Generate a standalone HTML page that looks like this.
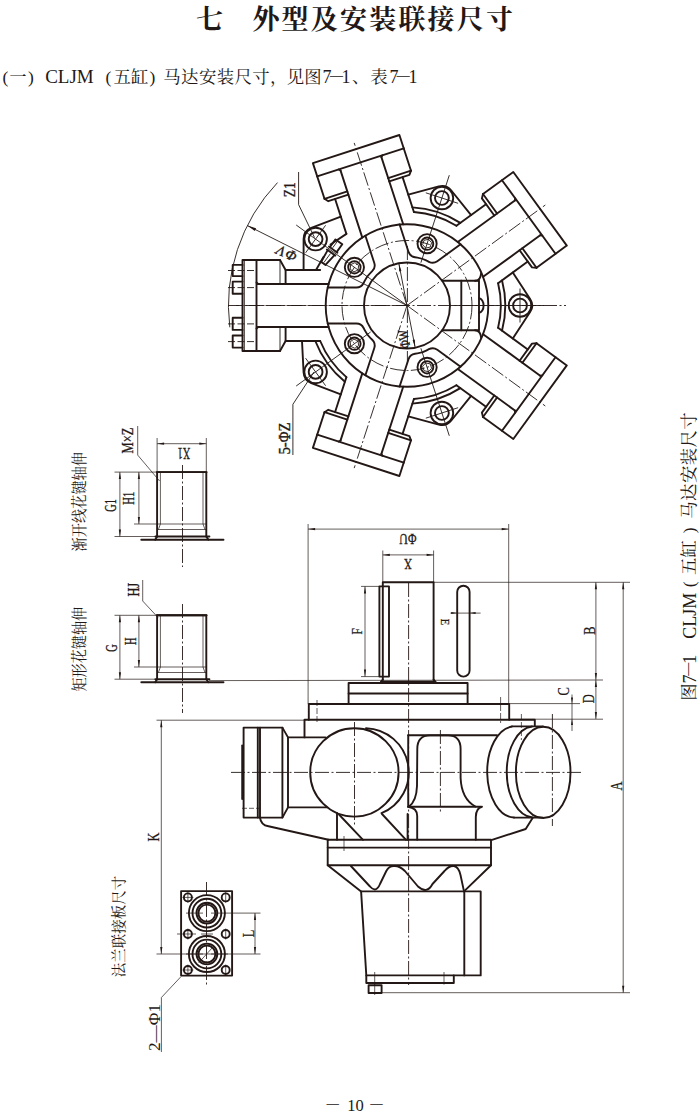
<!DOCTYPE html>
<html lang="zh-CN"><head><meta charset="utf-8"><title>外型及安装联接尺寸</title>
<style>
html,body{margin:0;padding:0;background:#fff;}
body{width:700px;height:1116px;overflow:hidden;position:relative;}
svg{position:absolute;left:0;top:0;display:block;}
.s{font-family:"Liberation Serif","Noto Serif CJK SC",serif;fill:#231815;}
.n{font-family:"Liberation Serif","Noto Serif CJK SC",serif;fill:#231815;stroke:#231815;stroke-width:0.35;}
.k{fill:none;stroke:#231815;stroke-width:1.9;stroke-linecap:round;stroke-linejoin:round;}
.t{fill:none;stroke:#231815;stroke-width:0.9;stroke-linecap:butt;}
.c{fill:none;stroke:#231815;stroke-width:0.9;stroke-dasharray:14 2.5 2 2.5;}
#side .t,#left .t{stroke-width:.7;}
.a{fill:#231815;stroke:none;}
</style></head><body>
<svg width="700" height="1116" viewBox="0 0 700 1116">
<text class="s" x="195.9" y="29.2" font-size="27" font-weight="700">七</text>
<text class="s" x="252.4 281.6 310.8 340 369.2 398.4 427.6 456.8 486" y="29.2" font-size="27" font-weight="700">外型及安装联接尺寸</text>
<text class="s" x="2.6" y="82.6" font-size="17.4">(</text>
<text class="s" x="9.3" y="82.6" font-size="17.4">一</text>
<text class="s" x="28" y="82.6" font-size="17.4">)</text>
<text class="s" x="45.2" y="83.2" font-size="19">CLJM</text>
<text class="s" x="105.5" y="82.6" font-size="17.4">(</text>
<text class="s" x="113.6 130.9" y="82.6" font-size="17.4">五缸</text>
<text class="s" x="149.5" y="82.6" font-size="17.4">)</text>
<text class="s" x="163.3 181.1 198.9 216.7 234.5 252.3" y="82.6" font-size="17.4">马达安装尺寸</text>
<text class="s" x="270" y="82.6" font-size="17.4">，</text>
<text class="s" x="286.8 304.2" y="82.6" font-size="17.4">见图</text>
<text class="s" x="322.4" y="83.2" font-size="18">7</text>
<text class="s" x="327.8" y="82.6" font-size="17.4">－</text>
<text class="s" x="341.6" y="83.2" font-size="18">1</text>
<text class="s" x="352" y="82.6" font-size="17.4">、</text>
<text class="s" x="370.2" y="82.6" font-size="17.4">表</text>
<text class="s" x="389.4" y="83.2" font-size="18">7</text>
<text class="s" x="394.5" y="82.6" font-size="17.4">－</text>
<text class="s" x="408.6" y="83.2" font-size="18">1</text>
<text class="s" x="324.6" y="1110.8" font-size="16.5">－</text>
<text class="s" x="347.2" y="1110.8" font-size="16.5">10</text>
<text class="s" x="368.3" y="1110.8" font-size="16.5">－</text>
<g transform="translate(695 699.7) rotate(-90)">
<text class="s" x="-1" y="0" font-size="17.4">图</text>
<text class="s" x="16.2" y="0.6" font-size="18">7</text>
<text class="s" x="21.6" y="0" font-size="17.4">－</text>
<text class="s" x="35.9" y="0.6" font-size="18">1</text>
<text class="s" x="61" y="0.6" font-size="18">CLJM</text>
<text class="s" x="112.5" y="0" font-size="17.4">(</text>
<text class="s" x="124.8 142.2" y="0" font-size="17.4">五缸</text>
<text class="s" x="166.5" y="0" font-size="17.4">)</text>
<text class="s" x="181 198.8 216.6 234.4 252.2 270" y="0" font-size="17.4">马达安装尺寸</text>
</g>
<g id="star">
<circle class="k" cx="407" cy="305.5" r="43"/>
<circle class="k" cx="407" cy="305.5" r="81.3"/>
<circle class="c" cx="407" cy="305.5" r="65"/>
<line class="k" x1="362.3" y1="237.6" x2="340.5" y2="170.4"/>
<line class="k" x1="340.5" y1="170.4" x2="338.6" y2="169.5"/>
<line class="k" x1="346.4" y1="233.9" x2="335.1" y2="199"/>
<path class="k" d="M347.3 191.4 L324.5 198.8"/>
<path class="k" d="M348.4 194.7 L328.3 201.2 L324.5 198.8"/>
<line class="k" x1="403.2" y1="224.3" x2="381.4" y2="157.1"/>
<line class="k" x1="381.4" y1="157.1" x2="382.4" y2="155.3"/>
<line class="k" x1="413.9" y1="212" x2="402.6" y2="177.1"/>
<path class="k" d="M388.2 178.1 L411 170.7"/>
<path class="k" d="M389.3 181.4 L409.4 174.9 L411 170.7"/>
<path class="k" d="M324.5 198.8 L312.9 163.1 L399.4 135 L411 170.7"/>
<line class="k" x1="317.2" y1="176.4" x2="403.8" y2="148.3"/>
<line class="c" x1="407" y1="305.5" x2="354.2" y2="142.9"/>
<line class="k" x1="457.8" y1="242" x2="514.9" y2="200.5"/>
<line class="k" x1="514.9" y1="200.5" x2="515.2" y2="198.4"/>
<line class="k" x1="456.4" y1="225.7" x2="486" y2="204.2"/>
<path class="k" d="M497.1 213.5 L483 194"/>
<path class="k" d="M494.3 215.5 L481.9 198.4 L483 194"/>
<line class="k" x1="483.1" y1="276.8" x2="540.2" y2="235.3"/>
<line class="k" x1="540.2" y1="235.3" x2="542.3" y2="235.6"/>
<line class="k" x1="498.1" y1="283.2" x2="527.8" y2="261.6"/>
<path class="k" d="M522.4 248.2 L536.5 267.7"/>
<path class="k" d="M519.6 250.3 L532 267.4 L536.5 267.7"/>
<path class="k" d="M483 194 L513.3 172 L566.8 245.6 L536.5 267.7"/>
<line class="k" x1="502" y1="180.2" x2="555.5" y2="253.8"/>
<line class="c" x1="407" y1="305.5" x2="545.3" y2="205"/>
<line class="k" x1="483.1" y1="334.2" x2="540.2" y2="375.7"/>
<line class="k" x1="540.2" y1="375.7" x2="542.3" y2="375.4"/>
<line class="k" x1="498.1" y1="327.8" x2="527.8" y2="349.4"/>
<path class="k" d="M522.4 362.8 L536.5 343.3"/>
<path class="k" d="M519.6 360.7 L532 343.6 L536.5 343.3"/>
<line class="k" x1="457.8" y1="369" x2="514.9" y2="410.5"/>
<line class="k" x1="514.9" y1="410.5" x2="515.2" y2="412.6"/>
<line class="k" x1="456.4" y1="385.3" x2="486" y2="406.8"/>
<path class="k" d="M497.1 397.5 L483 417"/>
<path class="k" d="M494.3 395.5 L481.9 412.6 L483 417"/>
<path class="k" d="M536.5 343.3 L566.8 365.4 L513.3 439 L483 417"/>
<line class="k" x1="555.5" y1="357.2" x2="502" y2="430.8"/>
<line class="c" x1="407" y1="305.5" x2="545.3" y2="406"/>
<line class="k" x1="403.2" y1="386.7" x2="381.4" y2="453.9"/>
<line class="k" x1="381.4" y1="453.9" x2="382.4" y2="455.7"/>
<line class="k" x1="413.9" y1="399" x2="402.6" y2="433.9"/>
<path class="k" d="M388.2 432.9 L411 440.3"/>
<path class="k" d="M389.3 429.6 L409.4 436.1 L411 440.3"/>
<line class="k" x1="362.3" y1="373.4" x2="340.5" y2="440.6"/>
<line class="k" x1="340.5" y1="440.6" x2="338.6" y2="441.5"/>
<line class="k" x1="346.4" y1="377.1" x2="335.1" y2="412"/>
<path class="k" d="M347.3 419.6 L324.5 412.2"/>
<path class="k" d="M348.4 416.3 L328.3 409.8 L324.5 412.2"/>
<path class="k" d="M411 440.3 L399.4 476 L312.9 447.9 L324.5 412.2"/>
<line class="k" x1="403.8" y1="462.7" x2="317.2" y2="434.6"/>
<line class="c" x1="407" y1="305.5" x2="354.2" y2="468.1"/>
<line class="k" x1="328.6" y1="327" x2="258" y2="327"/>
<line class="k" x1="258" y1="327" x2="256.5" y2="328.5"/>
<line class="k" x1="320.2" y1="341" x2="285.6" y2="341"/>
<path class="k" d="M285.6 327 L285.6 341 L280 351"/>
<line class="t" x1="280" y1="327" x2="280" y2="351"/>
<line class="k" x1="328.6" y1="284" x2="258" y2="284"/>
<line class="k" x1="258" y1="284" x2="256.5" y2="282.5"/>
<line class="k" x1="320.2" y1="270" x2="285.6" y2="270"/>
<path class="k" d="M285.6 284 L285.6 270 L280 260"/>
<line class="t" x1="280" y1="284" x2="280" y2="260"/>
<path class="k" d="M280 351 L242.5 351 L242.5 260 L280 260"/>
<line class="k" x1="256.5" y1="351" x2="256.5" y2="260"/>
<line class="c" x1="407" y1="305.5" x2="236" y2="305.5"/>
<path class="k" d="M456.4 225.7 A93.8 93.8 0 0 0 413.9 212"/>
<path class="k" d="M460.3 222.9 A98.3 98.3 0 0 0 412.4 207.4"/>
<path class="k" d="M408.3 194.7 L438.8 186.4 A12.0 12.0 0 0 1 451.3 190.5 L471.1 215.1"/>
<circle class="k" cx="441.9" cy="198" r="11.3"/>
<circle class="k" cx="441.9" cy="198" r="6.9"/>
<line class="t" x1="420.9" y1="262.7" x2="449.3" y2="175.2"/>
<line class="t" x1="425.8" y1="192.8" x2="458.1" y2="203.3"/>
<path class="k" d="M498.1 327.8 A93.8 93.8 0 0 0 498.1 283.2"/>
<path class="k" d="M502 330.7 A98.3 98.3 0 0 0 502 280.3"/>
<path class="k" d="M512.8 272.5 L530.1 298.9 A12.0 12.0 0 0 1 530.1 312.1 L512.8 338.5"/>
<circle class="k" cx="520" cy="305.5" r="11.3"/>
<circle class="k" cx="520" cy="305.5" r="6.9"/>
<line class="t" x1="452" y1="305.5" x2="544" y2="305.5"/>
<line class="t" x1="520" y1="288.5" x2="520" y2="322.5"/>
<path class="k" d="M413.9 399 A93.8 93.8 0 0 0 456.4 385.3"/>
<path class="k" d="M412.4 403.6 A98.3 98.3 0 0 0 460.3 388.1"/>
<path class="k" d="M471.1 395.9 L451.3 420.5 A12.0 12.0 0 0 1 438.8 424.6 L408.3 416.3"/>
<circle class="k" cx="441.9" cy="413" r="11.3"/>
<circle class="k" cx="441.9" cy="413" r="6.9"/>
<line class="t" x1="420.9" y1="348.3" x2="449.3" y2="435.8"/>
<line class="t" x1="458.1" y1="407.7" x2="425.8" y2="418.2"/>
<path class="k" d="M340.8 216.6 L311.3 227.9 A12 12 0 0 0 303.6 239.1 L303.6 270 L316 270 L323.5 257"/>
<circle class="k" cx="315.6" cy="239.1" r="11.3"/>
<circle class="k" cx="315.6" cy="239.1" r="6.9"/>
<line class="t" x1="407" y1="305.5" x2="296.2" y2="225"/>
<line class="t" x1="305.6" y1="252.8" x2="325.6" y2="225.3"/>
<line class="k" x1="346.4" y1="233.9" x2="330.5" y2="244.5"/>
<path class="k" stroke-width="1.3" d="M329.8 247.2 L335.5 239.4 L342.3 244.3 L336.6 252.1"/>
<path class="k" stroke-width="1.3" d="M327.7 250.1 L321.2 261.7 L325.5 264.9 L334.5 255.1"/>
<line class="k" x1="329" y1="246.6" x2="337.4" y2="252.7"/>
<line class="k" x1="326.9" y1="249.5" x2="335.3" y2="255.6"/>
<line class="t" x1="332.7" y1="247.8" x2="337.4" y2="241.3"/>
<line class="t" x1="330.4" y1="253.6" x2="323.9" y2="262.5"/>
<path class="k" d="M320.2 341 A93.8 93.8 0 0 0 346.4 377.1"/>
<path class="k" d="M315.3 341 A98.3 98.3 0 0 0 344.9 381.7"/>
<path class="k" d="M340.8 394.4 L311.3 383.1 A12.0 12.0 0 0 1 303.6 372.5 L302 341"/>
<circle class="k" cx="315.6" cy="371.9" r="11.3"/>
<circle class="k" cx="315.6" cy="371.9" r="6.9"/>
<line class="t" x1="370.6" y1="332" x2="296.2" y2="386"/>
<line class="t" x1="325.6" y1="385.7" x2="305.6" y2="358.2"/>
<path class="k" d="M399.6 224.5 L408.5 251.8 Q410 256.6 415 257.3 L417.4 257.6 Q422.3 258.3 426.7 260.7 L428.9 261.8 Q433.3 264.1 437.3 261.2 L460.6 244.3"/>
<circle class="k" cx="427.1" cy="243.7" r="9.6"/>
<circle class="k" cx="427.1" cy="243.7" r="6.2" stroke-width="1.2"/>
<path class="t" d="M428.5 239.3 L424 240.3 L422.6 244.6 L425.7 248.1 L430.2 247.1 L431.6 242.7 Z"/>
<path class="k" d="M460.6 366.7 L437.3 349.8 Q433.3 346.9 428.9 349.2 L426.7 350.3 Q422.3 352.7 417.4 353.4 L415 353.7 Q410 354.4 408.5 359.2 L399.6 386.5"/>
<circle class="k" cx="427.1" cy="367.3" r="9.6"/>
<circle class="k" cx="427.1" cy="367.3" r="6.2" stroke-width="1.2"/>
<path class="t" d="M428.5 371.7 L431.6 368.3 L430.2 363.9 L425.7 362.9 L422.6 366.4 L424 370.7 Z"/>
<path class="k" d="M327.7 287.5 L356.4 287.5 Q361.4 287.5 363.6 283 L364.7 280.8 Q366.9 276.3 370.5 272.9 L372.2 271.2 Q375.8 267.7 374.3 263 L365.4 235.7"/>
<circle class="k" cx="354.4" cy="267.3" r="9.6"/>
<circle class="k" cx="354.4" cy="267.3" r="6.2" stroke-width="1.2"/>
<path class="t" d="M350.7 264.6 L350.2 269.2 L353.9 271.9 L358.1 270 L358.6 265.4 L354.9 262.7 Z"/>
<path class="k" d="M365.4 375.3 L374.3 348 Q375.8 343.3 372.2 339.8 L370.5 338.1 Q366.9 334.7 364.7 330.2 L363.6 328 Q361.4 323.5 356.4 323.5 L327.7 323.5"/>
<circle class="k" cx="354.4" cy="343.7" r="9.6"/>
<circle class="k" cx="354.4" cy="343.7" r="6.2" stroke-width="1.2"/>
<path class="t" d="M350.7 346.4 L354.9 348.3 L358.6 345.6 L358.1 341 L353.9 339.1 L350.2 341.8 Z"/>
<path class="k" d="M442.2 280.8 L479 280.8 L479 330.2 L442.2 330.2"/>
<line class="k" x1="461.3" y1="280.8" x2="461.3" y2="330.2"/>
<path class="k" d="M479 298.3 A4.6 7.2 0 0 1 479 312.7" stroke-width="1.4"/>
<path class="k" d="M475 280.8 Q480.5 280.8 481.1 273.3"/>
<path class="k" d="M475 330.2 Q480.5 330.2 481.1 337.7"/>
<path class="k" stroke-width="1.4" d="M242.5 264.9 L232.7 264.9 L232.7 276.1 L242.5 276.1"/>
<line class="t" x1="228" y1="270.5" x2="254" y2="270.5" stroke-dasharray="7 2.5"/>
<path class="k" stroke-width="1.4" d="M242.5 281.6 L232.7 281.6 L232.7 293.7 L242.5 293.7"/>
<line class="t" x1="228" y1="287.6" x2="254" y2="287.6" stroke-dasharray="7 2.5"/>
<path class="k" stroke-width="1.4" d="M242.5 317.8 L232.7 317.8 L232.7 329.9 L242.5 329.9"/>
<line class="t" x1="228" y1="323.9" x2="254" y2="323.9" stroke-dasharray="7 2.5"/>
<path class="k" stroke-width="1.4" d="M242.5 335.5 L232.7 335.5 L232.7 347.6 L242.5 347.6"/>
<line class="t" x1="228" y1="341.6" x2="254" y2="341.6" stroke-dasharray="7 2.5"/>
<line class="t" x1="244.3" y1="260" x2="244.3" y2="351"/>
<path class="t" d="M277.5 182.6 A178.5 178.5 0 0 0 229.8 327.3"/>
<line class="t" x1="247.4" y1="225.6" x2="407" y2="305.5"/>
<path class="a" d="M247.4 225.6 L256.1 228.3 L254.8 230.9 Z"/>
<text class="n" x="286.6" y="253.6" font-size="14.5" text-anchor="middle" transform="rotate(204 286.6 253.6)" textLength="21" lengthAdjust="spacing" dominant-baseline="central" font-style="italic">ΦV</text>
<path class="t" d="M298.6 172 L298.6 204.6 L314.5 237.5"/>
<text class="n" x="295" y="189.7" font-size="16.2" text-anchor="middle" transform="rotate(-90 295 189.7)" textLength="15" lengthAdjust="spacingAndGlyphs">Z1</text>
<path class="t" d="M314 372 L292.9 404.3 L292.9 455"/>
<text class="n" x="290.2" y="438.6" font-size="16.2" text-anchor="middle" transform="rotate(-90 290.2 438.6)" textLength="32" lengthAdjust="spacingAndGlyphs">5-ΦZ</text>
<line class="t" x1="398.8" y1="263.3" x2="415.2" y2="347.7"/>
<path class="a" d="M398.8 263.3 L401.4 270.9 L399.2 271.4 Z"/>
<path class="a" d="M415.2 347.7 L412.6 340.1 L414.8 339.6 Z"/>
<text class="n" x="404.1" y="339" font-size="14" text-anchor="middle" transform="rotate(-100 404.1 339)" textLength="19" lengthAdjust="spacingAndGlyphs" dominant-baseline="central">ΦW</text>
<line class="c" x1="228" y1="305.5" x2="566" y2="305.5"/>
<line class="c" x1="407.4" y1="246" x2="407.4" y2="364"/>
</g>
<g id="side">
<path class="k" d="M382.8 680 L382.8 582.3 L433.6 582.3 L433.6 680"/>
<path class="k" d="M381 681.8 L382.8 679.5"/>
<path class="k" d="M435.4 681.8 L433.6 679.5"/>
<line class="k" x1="381" y1="681.8" x2="435.4" y2="681.8"/>
<path class="k" d="M379.4 586.4 L389 586.4 L389 676.6 L379.4 676.6 Z"/>
<rect class="k" x="457.2" y="585.7" width="12.4" height="90.9" rx="6.2" ry="6.2"/>
<path class="k" d="M348.6 704 L348.6 683 L467.6 683 L467.6 704"/>
<line class="k" x1="348.6" y1="693.5" x2="467.6" y2="693.5"/>
<path class="k" d="M308.8 719.8 L308.8 704 L509.2 704 L509.2 719.8"/>
<path class="k" d="M304.5 737.4 L304.5 719.8 L534.8 719.8 L534.8 726"/>
<path class="k" d="M282.4 727.6 L243.6 727.6 L243.6 817.6 L282.4 817.6 L288 807.4 L288 737.4 Z"/>
<line class="k" x1="257.8" y1="727.6" x2="257.8" y2="817.6" stroke-width="1.5"/>
<line class="k" x1="260" y1="727.6" x2="260" y2="817.6" stroke-width="1.3"/>
<line class="k" x1="282.4" y1="727.6" x2="282.4" y2="817.6" stroke-width="1.2"/>
<line class="k" x1="242.2" y1="745.5" x2="242.2" y2="799" stroke-width="1.6"/>
<line class="k" x1="288" y1="737.4" x2="325.5" y2="737.4"/>
<line class="k" x1="288" y1="807.4" x2="327" y2="807.4"/>
<line class="t" x1="242" y1="808.3" x2="260" y2="808.3" stroke-dasharray="5 2"/>
<path class="k" d="M260 817.6 Q260.8 825 268.5 826.3 L328.5 839.8"/>
<circle class="k" cx="354.4" cy="772.4" r="44.2"/>
<path class="k" d="M366 728.2 A44.2 44.2 0 0 1 381.5 813.2"/>
<line class="k" x1="337" y1="813" x2="337" y2="839.8"/>
<line class="k" x1="339" y1="814.5" x2="363" y2="839.8"/>
<line class="k" x1="382" y1="814" x2="406" y2="839.8"/>
<line class="k" x1="408.2" y1="735.2" x2="497" y2="735.2"/>
<line class="k" x1="408.2" y1="735.2" x2="408.2" y2="806.7" stroke-width="1.5"/>
<line class="k" x1="408.6" y1="806.7" x2="481" y2="806.7"/>
<path class="k" d="M409 806.5 Q416.5 801 417 786 L417.3 749 Q417.3 735.4 430 735.4 L448 735.4 Q460.6 735.4 460.6 749 L460.6 778 Q461.5 799 475.4 806.5"/>
<path class="k" d="M408 806.8 Q417.2 808 417.2 816 L417.2 839.8"/>
<path class="k" d="M482 806.7 Q476 808 475.8 817 L475.8 839.8"/>
<line class="k" x1="407.6" y1="814" x2="407.6" y2="839.8" stroke-width="1.3"/>
<ellipse class="k" cx="543.2" cy="772.4" rx="27.3" ry="45.6"/>
<path class="k" d="M532 726.5 A27.3 45.6 0 0 0 532.5 817.5"/>
<path class="k" d="M512 726.5 A27.3 45.6 0 0 0 514 817.5"/>
<line class="k" x1="512" y1="726.4" x2="543" y2="726.4"/>
<line class="k" x1="514" y1="817.6" x2="543" y2="817.6"/>
<path class="k" d="M532.6 818 L525.7 829 L492 839.8"/>
<path class="k" d="M327.7 865.2 L327.7 839.8 L491 839.8 L491 865.2 Z"/>
<line class="k" x1="327.7" y1="847.6" x2="491" y2="847.6"/>
<line class="k" x1="327.7" y1="865.2" x2="361.1" y2="891.4"/>
<line class="k" x1="491" y1="865.2" x2="464" y2="891.4"/>
<path class="k" d="M350.9 866 L370 886.5 Q376 893.5 380 884 L386.3 871 Q389 865.6 394.6 866 Q400 866 404.9 871 L418 886.5 Q427 894.5 432.5 884 L444.5 871 Q449 865.6 453.7 866 Q458.5 866.5 460.5 875 L464 891.4"/>
<path class="k" d="M361.1 891.4 L366.3 975.4 L480.7 975.4 L480.7 891.4 L361.1 891.4"/>
<line class="k" x1="464.3" y1="891.4" x2="464.3" y2="975.4"/>
<path class="k" d="M366.3 975.4 L366.3 983 L453.8 983 L453.8 975.4"/>
<line class="t" x1="374.7" y1="972" x2="374.7" y2="995"/>
<line class="t" x1="444" y1="972" x2="444" y2="984.6"/>
<path class="k" stroke-width="1.4" d="M368.6 985.2 L381.6 985.2 L381.6 993 L368.6 993 Z"/>
<line class="t" x1="374.6" y1="982.7" x2="374.6" y2="985.2"/>
<line class="c" x1="408.6" y1="583" x2="408.6" y2="985"/>
<line class="c" x1="231" y1="772.4" x2="582" y2="772.4"/>
<line class="c" x1="354.5" y1="722" x2="354.5" y2="826"/>
<line class="c" x1="440.4" y1="730" x2="440.4" y2="812"/>
<line class="c" x1="552.4" y1="714" x2="552.4" y2="826"/>
<line class="t" x1="317" y1="700" x2="317" y2="723" stroke-dasharray="6 2"/>
<line class="t" x1="500.6" y1="697" x2="500.6" y2="723" stroke-dasharray="6 2"/>
<line class="t" x1="521.4" y1="714" x2="521.4" y2="740" stroke-dasharray="6 2"/>
<line class="t" x1="344" y1="836" x2="344" y2="851"/>
<line class="t" x1="308.1" y1="524" x2="308.1" y2="704"/>
<line class="t" x1="508.7" y1="524" x2="508.7" y2="704"/>
<line class="t" x1="308.1" y1="529.1" x2="508.7" y2="529.1"/>
<path class="a" d="M308.1 529.1 L315.1 528 L315.1 530.2 Z"/>
<path class="a" d="M508.7 529.1 L501.7 530.2 L501.7 528 Z"/>
<text class="n" x="407.9" y="538.7" font-size="14.5" text-anchor="middle" transform="rotate(180 407.9 538.7)" textLength="17" lengthAdjust="spacingAndGlyphs" dominant-baseline="central">ΦU</text>
<line class="t" x1="382.8" y1="550.5" x2="382.8" y2="582.3"/>
<line class="t" x1="433.6" y1="550.5" x2="433.6" y2="582.3"/>
<line class="t" x1="382.8" y1="554.9" x2="433.6" y2="554.9"/>
<path class="a" d="M382.8 554.9 L389.8 553.8 L389.8 556 Z"/>
<path class="a" d="M433.6 554.9 L426.6 556 L426.6 553.8 Z"/>
<text class="n" x="407.9" y="564.4" font-size="15.5" text-anchor="middle" transform="rotate(180 407.9 564.4)" textLength="8" lengthAdjust="spacingAndGlyphs" dominant-baseline="central">X</text>
<line class="t" x1="361" y1="586.4" x2="379.4" y2="586.4"/>
<line class="t" x1="361" y1="676.6" x2="379.4" y2="676.6"/>
<line class="t" x1="365" y1="586.4" x2="365" y2="676.6"/>
<path class="a" d="M365 586.4 L366.1 593.4 L363.9 593.4 Z"/>
<path class="a" d="M365 676.6 L363.9 669.6 L366.1 669.6 Z"/>
<text class="s" x="357.3" y="631.3" font-size="14.5" text-anchor="middle" transform="rotate(-90 357.3 631.3)" textLength="6.3" lengthAdjust="spacingAndGlyphs" dominant-baseline="central" stroke="#231815" stroke-width="0.25">F</text>
<line class="t" x1="450.4" y1="613.1" x2="480.6" y2="613.1"/>
<path class="a" d="M457.2 613.1 L451.2 614.1 L451.2 612.1 Z"/>
<path class="a" d="M469.6 613.1 L475.6 612.1 L475.6 614.1 Z"/>
<text class="s" x="445.8" y="622" font-size="13.5" text-anchor="middle" transform="rotate(90 445.8 622)" textLength="6.4" lengthAdjust="spacingAndGlyphs" dominant-baseline="central" stroke="#231815" stroke-width="0.25">E</text>
<line class="t" x1="433.6" y1="582.3" x2="630" y2="582.3"/>
<line class="t" x1="209" y1="680.6" x2="603" y2="680"/>
<line class="t" x1="156.5" y1="720.2" x2="305" y2="720.2"/>
<line class="t" x1="509.2" y1="719.2" x2="603" y2="719.2"/>
<line class="t" x1="509.2" y1="703.6" x2="580" y2="703.6"/>
<line class="t" x1="381.6" y1="992.7" x2="630" y2="992.7"/>
<line class="t" x1="595.9" y1="582.3" x2="595.9" y2="680"/>
<path class="a" d="M595.9 582.3 L597 589.3 L594.8 589.3 Z"/>
<path class="a" d="M595.9 680 L594.8 673 L597 673 Z"/>
<text class="s" x="589.8" y="630.5" font-size="16" text-anchor="middle" transform="rotate(-90 589.8 630.5)" textLength="8.3" lengthAdjust="spacingAndGlyphs" dominant-baseline="central" stroke="#231815" stroke-width="0.25">B</text>
<line class="t" x1="595.9" y1="680" x2="595.9" y2="719"/>
<path class="a" d="M595.9 680 L597 687 L594.8 687 Z"/>
<path class="a" d="M595.9 719 L594.8 712 L597 712 Z"/>
<text class="s" x="588.6" y="698.8" font-size="16" text-anchor="middle" transform="rotate(-90 588.6 698.8)" textLength="9" lengthAdjust="spacingAndGlyphs" dominant-baseline="central" stroke="#231815" stroke-width="0.25">D</text>
<line class="t" x1="572" y1="694.5" x2="572" y2="731"/>
<path class="a" d="M572 703.6 L571 697.6 L573 697.6 Z"/>
<path class="a" d="M572 719 L573 725 L571 725 Z"/>
<text class="s" x="564" y="691.4" font-size="16" text-anchor="middle" transform="rotate(-90 564 691.4)" textLength="8.3" lengthAdjust="spacingAndGlyphs" dominant-baseline="central" stroke="#231815" stroke-width="0.25">C</text>
<line class="t" x1="623.2" y1="582.3" x2="623.2" y2="992.7"/>
<path class="a" d="M623.2 582.3 L624.3 589.3 L622.1 589.3 Z"/>
<path class="a" d="M623.2 992.7 L622.1 985.7 L624.3 985.7 Z"/>
<text class="s" x="616.6" y="786" font-size="16" text-anchor="middle" transform="rotate(-90 616.6 786)" textLength="9" lengthAdjust="spacingAndGlyphs" dominant-baseline="central" stroke="#231815" stroke-width="0.25">A</text>
<line class="t" x1="161.3" y1="720.2" x2="161.3" y2="954"/>
<path class="a" d="M161.3 720.2 L162.4 727.2 L160.2 727.2 Z"/>
<path class="a" d="M161.3 954 L160.2 947 L162.4 947 Z"/>
<text class="s" x="153.4" y="837" font-size="16" text-anchor="middle" transform="rotate(-90 153.4 837)" textLength="9" lengthAdjust="spacingAndGlyphs" dominant-baseline="central" stroke="#231815" stroke-width="0.25">K</text>
</g>
<g id="left">
<path class="k" d="M157.1 536.5 L157.1 472.1 L206.3 472.1 L206.3 536.5"/>
<line class="k" x1="156.8" y1="472.1" x2="206.6" y2="472.1" stroke-width="2.6" stroke-linecap="butt"/>
<line class="t" x1="160.4" y1="472.1" x2="160.4" y2="524"/>
<line class="t" x1="203" y1="472.1" x2="203" y2="524"/>
<line class="t" x1="157.1" y1="524" x2="206.3" y2="524"/>
<line class="t" x1="157.1" y1="529.5" x2="206.3" y2="529.5"/>
<line class="t" x1="160.4" y1="524" x2="158.4" y2="529.5"/>
<line class="t" x1="203" y1="524" x2="205" y2="529.5"/>
<line class="k" x1="155.4" y1="536.5" x2="209.4" y2="536.5" stroke-width="1.5"/>
<path class="k" d="M157.1 536.5 L155.2 539.7"/>
<path class="k" d="M206.3 536.5 L208.4 539.7"/>
<line class="k" x1="141.3" y1="539.7" x2="223.5" y2="539.7" stroke-width="1.5"/>
<line class="c" x1="182.5" y1="465" x2="182.5" y2="567"/>
<line class="t" x1="114.5" y1="472.1" x2="157.1" y2="472.1"/>
<line class="t" x1="114.5" y1="536.5" x2="155.1" y2="536.5"/>
<line class="t" x1="119.9" y1="472.1" x2="119.9" y2="536.5"/>
<path class="a" d="M119.9 472.1 L121 479.1 L118.8 479.1 Z"/>
<path class="a" d="M119.9 536.5 L118.8 529.5 L121 529.5 Z"/>
<line class="t" x1="134" y1="524" x2="157.1" y2="524"/>
<line class="t" x1="138.9" y1="472.1" x2="138.9" y2="524"/>
<path class="a" d="M138.9 472.1 L140 479.1 L137.8 479.1 Z"/>
<path class="a" d="M138.9 524 L137.8 517 L140 517 Z"/>
<text class="n" x="111.4" y="505.4" font-size="16.2" text-anchor="middle" transform="rotate(-90 111.4 505.4)" textLength="12.5" lengthAdjust="spacingAndGlyphs" dominant-baseline="central">G1</text>
<text class="n" x="129.5" y="498.3" font-size="16.2" text-anchor="middle" transform="rotate(-90 129.5 498.3)" textLength="13" lengthAdjust="spacingAndGlyphs" dominant-baseline="central">H1</text>
<path class="t" d="M137.7 426 L137.7 455.1 L159.6 481"/>
<text class="n" x="127.5" y="440.5" font-size="16.2" text-anchor="middle" transform="rotate(-90 127.5 440.5)" textLength="26" lengthAdjust="spacingAndGlyphs" dominant-baseline="central">M×Z</text>
<line class="t" x1="157.1" y1="438" x2="157.1" y2="472"/>
<line class="t" x1="206.3" y1="438" x2="206.3" y2="472"/>
<line class="t" x1="157.1" y1="443.7" x2="206.3" y2="443.7"/>
<path class="a" d="M157.1 443.7 L164.1 442.6 L164.1 444.8 Z"/>
<path class="a" d="M206.3 443.7 L199.3 444.8 L199.3 442.6 Z"/>
<text class="n" x="184" y="452.7" font-size="16.2" text-anchor="middle" transform="rotate(180 184 452.7)" textLength="12.5" lengthAdjust="spacingAndGlyphs" dominant-baseline="central">X1</text>
<text class="s" x="79.3" y="501.7" font-size="15.5" text-anchor="middle" transform="rotate(-90 79.3 501.7)" textLength="99.4" lengthAdjust="spacingAndGlyphs" dominant-baseline="central">渐开线花键轴伸</text>
<path class="k" d="M157.1 679.2 L157.1 615.3 L206.3 615.3 L206.3 679.2"/>
<line class="k" x1="156.8" y1="615.3" x2="206.6" y2="615.3" stroke-width="2.6" stroke-linecap="butt"/>
<line class="t" x1="160.4" y1="615.3" x2="160.4" y2="667"/>
<line class="t" x1="203" y1="615.3" x2="203" y2="667"/>
<line class="t" x1="157.1" y1="667" x2="206.3" y2="667"/>
<line class="t" x1="157.1" y1="672.5" x2="206.3" y2="672.5"/>
<line class="t" x1="160.4" y1="667" x2="158.4" y2="672.5"/>
<line class="t" x1="203" y1="667" x2="205" y2="672.5"/>
<line class="k" x1="155.4" y1="679.2" x2="209.4" y2="679.2" stroke-width="1.5"/>
<path class="k" d="M157.1 679.2 L155.2 682.3"/>
<path class="k" d="M206.3 679.2 L208.4 682.3"/>
<line class="k" x1="141.3" y1="682.3" x2="223.5" y2="682.3" stroke-width="1.5"/>
<line class="c" x1="182.5" y1="604" x2="182.5" y2="713"/>
<line class="t" x1="114.5" y1="615.3" x2="157.1" y2="615.3"/>
<line class="t" x1="114.5" y1="679.2" x2="155.1" y2="679.2"/>
<line class="t" x1="119.9" y1="615.3" x2="119.9" y2="679.2"/>
<path class="a" d="M119.9 615.3 L121 622.3 L118.8 622.3 Z"/>
<path class="a" d="M119.9 679.2 L118.8 672.2 L121 672.2 Z"/>
<line class="t" x1="134" y1="667" x2="157.1" y2="667"/>
<line class="t" x1="138.9" y1="615.3" x2="138.9" y2="667"/>
<path class="a" d="M138.9 615.3 L140 622.3 L137.8 622.3 Z"/>
<path class="a" d="M138.9 667 L137.8 660 L140 660 Z"/>
<text class="n" x="112" y="648" font-size="16.2" text-anchor="middle" transform="rotate(-90 112 648)" textLength="7.5" lengthAdjust="spacingAndGlyphs" dominant-baseline="central">G</text>
<text class="n" x="131.4" y="641.2" font-size="16.2" text-anchor="middle" transform="rotate(-90 131.4 641.2)" textLength="7.5" lengthAdjust="spacingAndGlyphs" dominant-baseline="central">H</text>
<path class="t" d="M142.7 580 L142.7 601 L158 617.5"/>
<text class="n" x="133.7" y="589.7" font-size="16.2" text-anchor="middle" transform="rotate(-90 133.7 589.7)" textLength="13.7" lengthAdjust="spacingAndGlyphs" dominant-baseline="central">HJ</text>
<text class="s" x="79.3" y="649.2" font-size="15.5" text-anchor="middle" transform="rotate(-90 79.3 649.2)" textLength="84.8" lengthAdjust="spacingAndGlyphs" dominant-baseline="central">矩形花键轴伸</text>
<path class="k" stroke-width="1.5" d="M181.1 891.1 L232.1 891.1 L232.1 975.6 L181.1 975.6 Z"/>
<circle class="k" cx="206.9" cy="913.1" r="18" stroke-width="1.25"/>
<circle class="k" cx="206.9" cy="913.1" r="14.4" stroke-width="1.25"/>
<circle class="k" cx="206.9" cy="913.1" r="10.4" stroke-width="1.25"/>
<circle class="k" cx="206.9" cy="913.1" r="8.5" stroke-width="1.25"/>
<line class="t" x1="186" y1="913.1" x2="203" y2="913.1"/>
<line class="t" x1="211" y1="913.1" x2="228" y2="913.1"/>
<circle class="k" cx="206.9" cy="954" r="18" stroke-width="1.25"/>
<circle class="k" cx="206.9" cy="954" r="14.4" stroke-width="1.25"/>
<circle class="k" cx="206.9" cy="954" r="10.4" stroke-width="1.25"/>
<circle class="k" cx="206.9" cy="954" r="8.5" stroke-width="1.25"/>
<line class="t" x1="186" y1="954" x2="203" y2="954"/>
<line class="t" x1="211" y1="954" x2="228" y2="954"/>
<circle class="k" cx="187.9" cy="897.4" r="4" stroke-width="1.1"/>
<line class="t" x1="187.9" y1="891.9" x2="187.9" y2="902.9"/>
<line class="t" x1="182.4" y1="897.4" x2="193.4" y2="897.4"/>
<circle class="k" cx="187.9" cy="934" r="4" stroke-width="1.1"/>
<line class="t" x1="187.9" y1="928.5" x2="187.9" y2="939.5"/>
<circle class="k" cx="187.9" cy="970" r="4" stroke-width="1.1"/>
<line class="t" x1="187.9" y1="964.5" x2="187.9" y2="975.5"/>
<line class="t" x1="182.4" y1="970" x2="193.4" y2="970"/>
<circle class="k" cx="225.7" cy="897.4" r="4" stroke-width="1.1"/>
<line class="t" x1="225.7" y1="891.9" x2="225.7" y2="902.9"/>
<circle class="k" cx="225.7" cy="934" r="4" stroke-width="1.1"/>
<line class="t" x1="225.7" y1="928.5" x2="225.7" y2="939.5"/>
<circle class="k" cx="225.7" cy="970" r="4" stroke-width="1.1"/>
<line class="t" x1="225.7" y1="964.5" x2="225.7" y2="975.5"/>
<line class="c" x1="206.5" y1="882" x2="206.5" y2="985"/>
<line class="t" x1="177" y1="934" x2="196" y2="934"/>
<line class="t" x1="201" y1="934" x2="213" y2="934"/>
<line class="t" x1="198.6" y1="962.9" x2="212.9" y2="947.1"/>
<line class="t" x1="228" y1="913.1" x2="260.5" y2="913.1"/>
<line class="t" x1="156.5" y1="954" x2="260.5" y2="954"/>
<line class="t" x1="255" y1="913.1" x2="255" y2="954"/>
<path class="a" d="M255 913.1 L256.1 920.1 L253.9 920.1 Z"/>
<path class="a" d="M255 954 L253.9 947 L256.1 947 Z"/>
<text class="s" x="248.4" y="933.5" font-size="16" text-anchor="middle" transform="rotate(-90 248.4 933.5)" textLength="7.6" lengthAdjust="spacingAndGlyphs" dominant-baseline="central" stroke="#231815" stroke-width="0.25">L</text>
<path class="t" d="M181 976.6 L161.4 997.5 L161.4 1052"/>
<text class="s" x="159.6" y="1027.5" font-size="16.5" text-anchor="middle" transform="rotate(-90 159.6 1027.5)" textLength="47" lengthAdjust="spacingAndGlyphs">2—Φ1</text>
<text class="s" x="119.2" y="926.5" font-size="14.5" text-anchor="middle" transform="rotate(-90 119.2 926.5)" dominant-baseline="central">法兰联接板尺寸</text>
</g>
</svg>
</body></html>
